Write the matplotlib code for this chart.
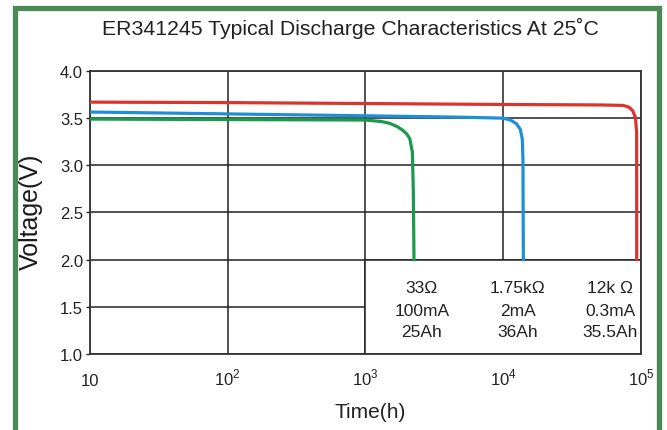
import matplotlib.pyplot as plt
from matplotlib.patches import Rectangle

# discharge curves (time in h, voltage in V)
green_t = [10, 100, 1000, 1080, 1300, 1500, 1700, 1870, 2000, 2100, 2190, 2225, 2250]
green_v = [3.49, 3.485, 3.48, 3.475, 3.465, 3.445, 3.41, 3.37, 3.33, 3.28, 3.14, 2.72, 2.0]

blue_t = [10, 100, 1000, 5000, 9950, 11300, 12500, 13300, 13750, 13900, 14000]
blue_v = [3.565, 3.545, 3.525, 3.51, 3.50, 3.48, 3.44, 3.38, 3.28, 3.07, 2.0]

red_t = [10, 100, 1000, 10000, 50000, 74300, 82000, 87000, 91000, 93000, 93100]
red_v = [3.67, 3.665, 3.655, 3.645, 3.64, 3.635, 3.615, 3.58, 3.51, 3.35, 2.0]

legend_x = [2570, 12790, 59600]
legend_cols = [["33Ω", "100mA", "25Ah"],
               ["1.75kΩ", "2mA", "36Ah"],
               ["12k Ω", "0.3mA", "35.5Ah"]]
legend_y = [1.71, 1.465, 1.235]

x_ticks = [10, 100, 1000, 10000, 100000]
x_labels = ["10", "$10^{2}$", "$10^{3}$", "$10^{4}$", "$10^{5}$"]
y_ticks = [1.0, 1.5, 2.0, 2.5, 3.0, 3.5, 4.0]

plt.rcParams['font.family'] = ['Liberation Sans', 'DejaVu Sans']
plt.rcParams['mathtext.fontset'] = 'custom'
plt.rcParams['mathtext.rm'] = 'Liberation Sans'

fig = plt.figure(figsize=(6.67, 4.31), dpi=100)
ax = fig.add_axes([0.1349, 0.1763, 0.961 - 0.1349, 0.833 - 0.1763])

# green frame around the picture
fig.patches.append(Rectangle((14.5 / 667, -0.05), (659 - 14.5) / 667, 1.05 - 8.5 / 431,
                             transform=fig.transFigure, fill=False,
                             edgecolor='#4a8b55', linewidth=3.8))

ax.plot(green_t, green_v, color='#1a9a4c', lw=2.3, zorder=3)
ax.plot(blue_t, blue_v, color='#1e8fd6', lw=2.3, zorder=3)
ax.plot(red_t, red_v, color='#d9352c', lw=2.3, zorder=3)

ax.set_xscale('log')
ax.set_xlim(10, 100000)
ax.set_ylim(1.0, 4.0)
ax.set_xticks(x_ticks)
ax.set_xticklabels(x_labels)
ax.minorticks_off()
ax.set_yticks(y_ticks)
ax.set_yticklabels(["%.1f" % y for y in y_ticks])
ax.grid(True, color='#222222', lw=1.1, zorder=1)
ax.set_axisbelow(True)
ax.tick_params(axis='y', length=3, width=1, labelsize=12, pad=2, colors='#222222')
ax.tick_params(axis='x', length=0, labelsize=12, pad=22, colors='#222222')
for lbl in ax.get_xticklabels():
    lbl.set_va('baseline')
for s in ax.spines.values():
    s.set_color('#333333')
    s.set_linewidth(1.3)

# white box with the load legend
ax.add_patch(Rectangle((1000, 1.0), 99000, 1.0, facecolor='white',
                       edgecolor='#222222', lw=1.1, zorder=2))
for x, col in zip(legend_x, legend_cols):
    for y, s in zip(legend_y, col):
        ax.text(x, y, s, ha='center', va='center', fontsize=12.5, color='#222222', zorder=4)

fig.text(0.525, 1 - 28 / 431, "ER341245 Typical Discharge Characteristics At 25˚C",
         ha='center', va='center', fontsize=15.3, color='#222222')
fig.text(31 / 667, 1 - 212 / 431, "Voltage(V)", rotation=90, ha='center', va='center',
         fontsize=18, color='#1a1a1a')
fig.text(370 / 667, 1 - 413 / 431, "Time(h)", ha='center', va='center',
         fontsize=15, color='#222222')

fig.savefig('out.png', dpi=100)
